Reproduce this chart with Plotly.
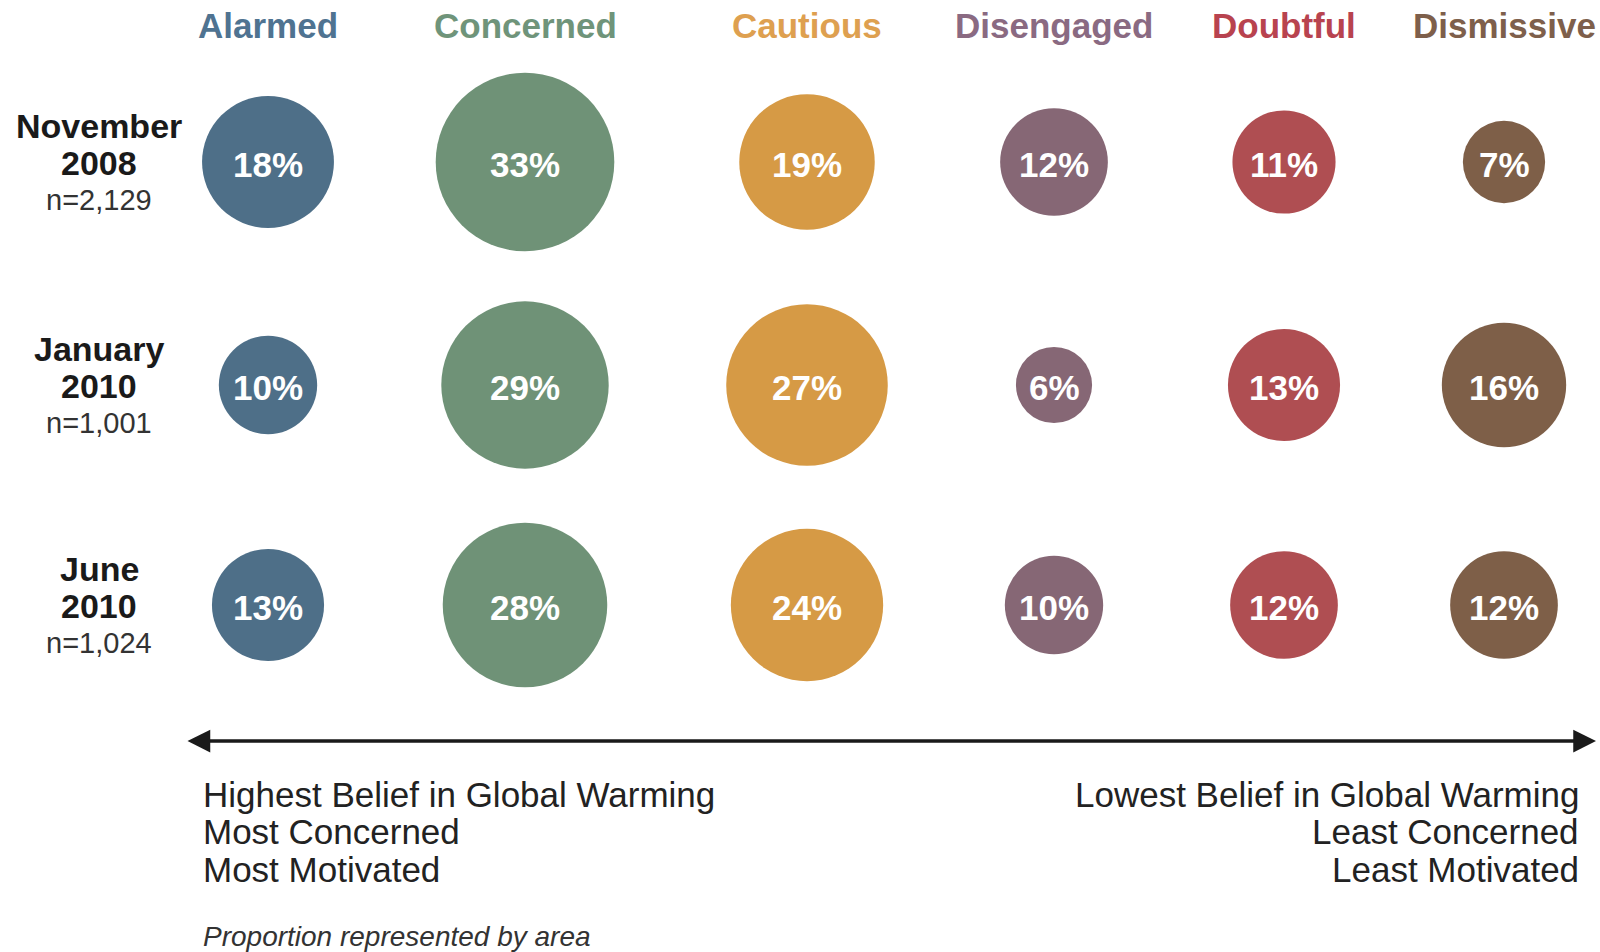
import plotly.graph_objects as go

# ---- data ----
segments = ["Alarmed", "Concerned", "Cautious", "Disengaged", "Doubtful", "Dismissive"]
survey_titles = [["November", "2008"], ["January", "2010"], ["June", "2010"]]
sample_sizes = ["n=2,129", "n=1,001", "n=1,024"]
nov_2008 = [18, 33, 19, 12, 11, 7]
jan_2010 = [10, 29, 27, 6, 13, 16]
jun_2010 = [13, 28, 24, 10, 12, 12]
left_notes = ["Highest Belief in Global Warming", "Most Concerned", "Most Motivated"]
right_notes = ["Lowest Belief in Global Warming", "Least Concerned", "Least Motivated"]
footnote = "Proportion represented by area"

# ---- layout / style ----
W, H = 1600, 952
col_pos = [268, 525, 807, 1054, 1284, 1504]
row_pos = [162, 385, 605]
circle_colors = ["#4e6f88", "#6f9277", "#d69a45", "#866775", "#af4e52", "#7e5f48"]
header_colors = ["#4f7391", "#6f947a", "#dea050", "#8a6a82", "#b8434f", "#7e5f4b"]
FONT = "Liberation Sans, Arial, Helvetica, sans-serif"
max_diam = 178.6
sizeref = 2 * 33 / max_diam ** 2

rows = [nov_2008, jan_2010, jun_2010]

fig = go.Figure()
for j, seg in enumerate(segments):
    vals = [r[j] for r in rows]
    fig.add_trace(go.Scatter(
        x=[col_pos[j]] * len(rows),
        y=row_pos,
        mode="markers",
        marker=dict(size=vals, sizemode="area", sizeref=sizeref,
                    color=circle_colors[j], line=dict(width=0), opacity=1),
        hoverinfo="skip",
        showlegend=False,
        name=seg,
    ))

ann = []
# value labels inside circles
for j in range(len(segments)):
    for i, r in enumerate(rows):
        ann.append(dict(x=col_pos[j], y=row_pos[i] + 2, text=f"{r[j]}%", showarrow=False,
                        xanchor="center", yanchor="middle",
                        font=dict(family=FONT, size=35, color="white", weight="bold")))

# headers
for j, seg in enumerate(segments):
    ann.append(dict(x=col_pos[j], y=25, text=seg, showarrow=False,
                    xanchor="center", yanchor="middle",
                    font=dict(family=FONT, size=35, color=header_colors[j], weight="bold")))

# row labels
row_label_x = 99
for i in range(len(survey_titles)):
    y0 = row_pos[i]
    ann.append(dict(x=row_label_x, y=y0 - 36, text=survey_titles[i][0], showarrow=False,
                    xanchor="center", yanchor="middle",
                    font=dict(family=FONT, size=34, color="#1a1a1a", weight="bold")))
    ann.append(dict(x=row_label_x, y=y0 + 1, text=survey_titles[i][1], showarrow=False,
                    xanchor="center", yanchor="middle",
                    font=dict(family=FONT, size=34, color="#1a1a1a", weight="bold")))
    ann.append(dict(x=row_label_x, y=y0 + 38, text=sample_sizes[i], showarrow=False,
                    xanchor="center", yanchor="middle",
                    font=dict(family=FONT, size=29, color="#333333")))

# double arrow
ann.append(dict(x=1596, y=741, ax=186, ay=741, axref="x", ayref="y",
                xref="x", yref="y", text="", showarrow=True,
                arrowhead=2, arrowside="end+start", arrowsize=1.3,
                arrowwidth=3.5, arrowcolor="#1a1a1a", standoff=0, startstandoff=0))

# bottom notes
note_y = [794, 831, 869]
for k in range(3):
    ann.append(dict(x=201, y=note_y[k], text=left_notes[k], showarrow=False,
                    xanchor="left", yanchor="middle",
                    font=dict(family=FONT, size=35, color="#222222")))
    ann.append(dict(x=1581, y=note_y[k], text=right_notes[k], showarrow=False,
                    xanchor="right", yanchor="middle",
                    font=dict(family=FONT, size=35, color="#222222")))

ann.append(dict(x=201, y=936, text=f"<i>{footnote}</i>", showarrow=False,
                xanchor="left", yanchor="middle",
                font=dict(family=FONT, size=28, color="#333333")))

fig.update_layout(
    width=W, height=H,
    margin=dict(l=0, r=0, t=0, b=0),
    paper_bgcolor="white", plot_bgcolor="white",
    xaxis=dict(range=[0, W], visible=False, fixedrange=True),
    yaxis=dict(range=[H, 0], visible=False, fixedrange=True),
    annotations=ann,
)

fig.write_html("out.html", config={"displayModeBar": False},
               post_script="document.body.style.margin='0';document.body.style.overflow='hidden';")
